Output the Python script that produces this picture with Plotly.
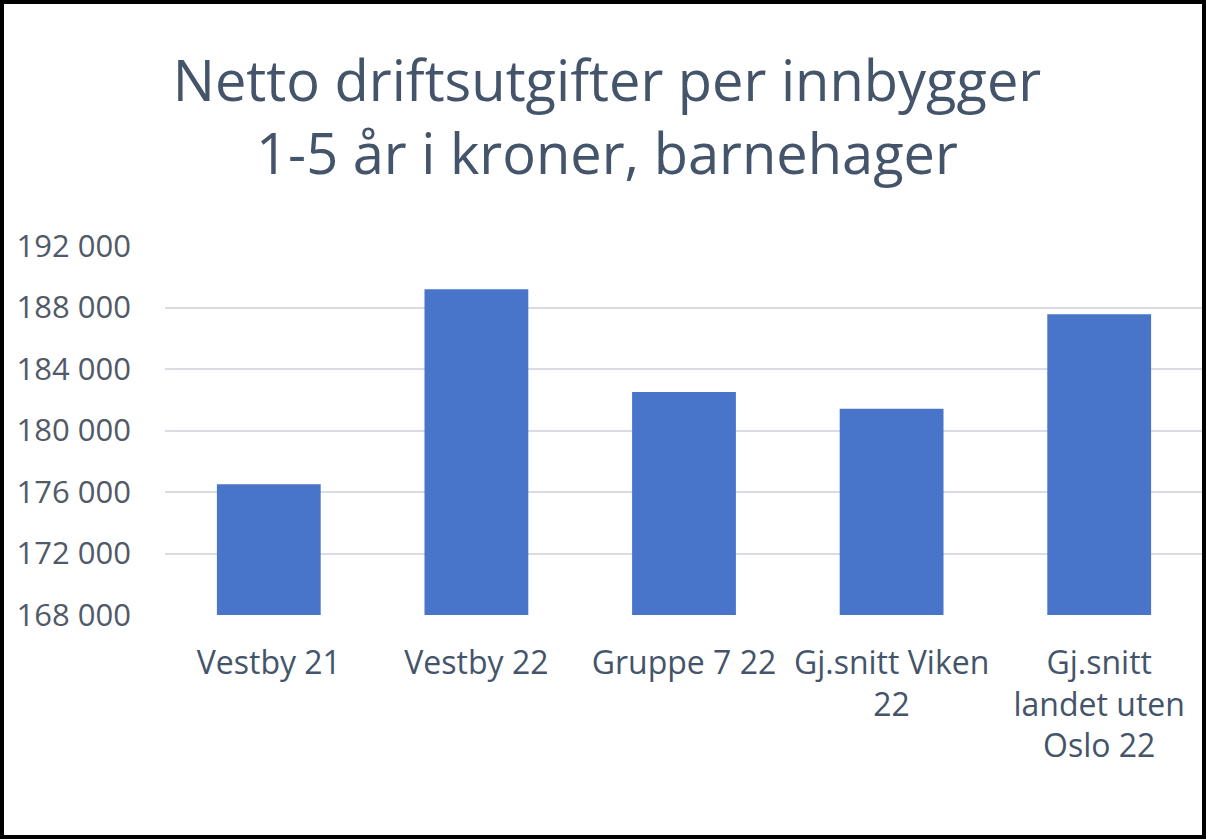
import plotly.graph_objects as go

categories = ["Vestby 21", "Vestby 22", "Gruppe 7 22", "Gj.snitt Viken<br>22", "Gj.snitt<br>landet uten<br>Oslo 22"]
values = [176500, 189180, 182500, 181420, 187560]
title_text = "Netto driftsutgifter per innbygger<br>1-5 år i kroner, barnehager"
y_ticks = [168000, 172000, 176000, 180000, 184000, 188000, 192000]

W, H = 1206, 839
L, R, T, B = 165, 3, 246, 224
pw, ph = W - L - R, H - T - B

fig = go.Figure()
fig.add_trace(go.Bar(
    x=categories, y=values,
    marker=dict(color="#4874CA", line=dict(width=0)),
    hoverinfo="x+y",
))

fig.update_layout(
    width=W, height=H,
    margin=dict(l=L, r=R, t=T, b=B, autoexpand=False),
    paper_bgcolor="white", plot_bgcolor="white",
    bargap=0.5,
    separators=", ",
    showlegend=False,
    title=dict(
        text=title_text,
        x=(607 - L) / pw, xanchor="center", xref="paper",
        y=1 - 101 / H, yanchor="top", yref="container",
        font=dict(family="Open Sans", size=56, color="#44546A"),
    ),
    xaxis=dict(
        showgrid=False, showline=False, zeroline=False,
        tickfont=dict(family="Open Sans", size=32, color="#44546A"),
        ticks="", ticklen=0, ticklabelstandoff=26,
    ),
    yaxis=dict(
        range=[168000, 192000],
        tickvals=y_ticks,
        tickformat=",d",
        showgrid=True, gridcolor="#D9DCE3", gridwidth=2,
        zeroline=False, showline=False,
        tickfont=dict(family="Open Sans", size=31, color="#505A68"),
        ticks="", ticklabelstandoff=33,
    ),
    shapes=[dict(
        type="rect", xref="paper", yref="paper",
        x0=(2 - L) / pw, x1=(W - 2 - L) / pw,
        y0=(2 - B) / ph, y1=(H - 2 - B) / ph,
        line=dict(color="black", width=4), fillcolor="rgba(0,0,0,0)",
        layer="above",
    )],
)

fig.write_html(
    "out.html",
    config={"displayModeBar": False},
    post_script="document.body.style.margin='0';document.body.style.overflow='hidden';",
)
